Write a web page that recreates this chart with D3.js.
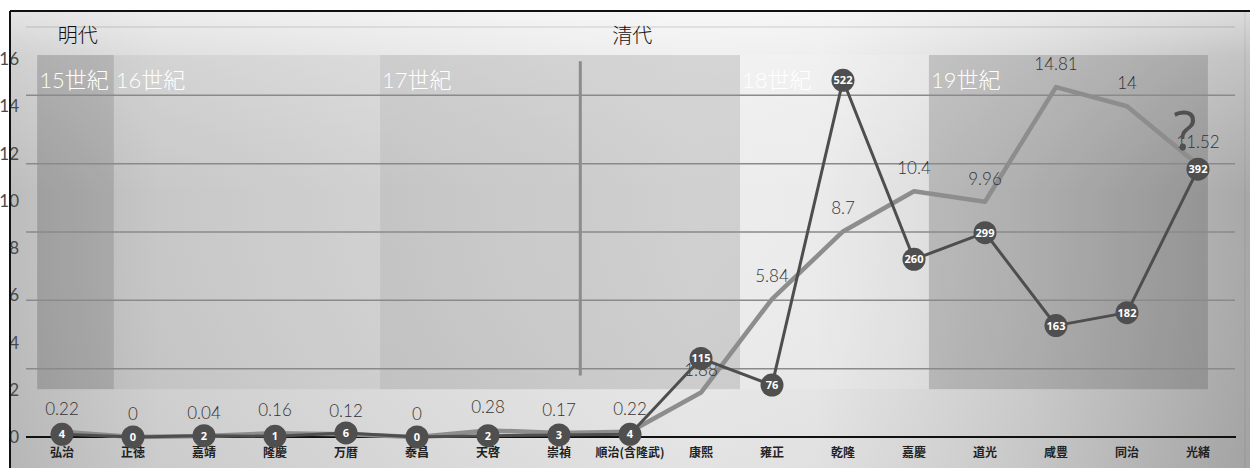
<!DOCTYPE html>
<html><head><meta charset="utf-8">
<script src="https://cdn.jsdelivr.net/npm/d3@7"></script>
<style>body{margin:0;background:#fff}svg{display:block}</style>
</head><body><svg id="c" width="1250" height="468"></svg>
<script>
const categories = ["弘治","正徳","嘉靖","隆慶","万暦","泰昌","天啓","崇禎","順治(含隆武)","康熙","雍正","乾隆","嘉慶","道光","咸豊","同治","光緒"];
const lightValues = [0.22,0,0.04,0.16,0.12,0,0.28,0.17,0.22,1.88,5.84,8.7,10.4,9.96,14.81,14,11.52];
const darkValues = [4,0,2,1,6,0,2,3,4,115,76,522,260,299,163,182,392];
const leftTicks = [0,2,4,6,8,10,12,14,16];
const darkGrid = [100,200,300,400,500,600];
const centuries = [
  {label:"15世紀", from:-0.35, to:0.73, fill:"rgba(0,0,0,0.17)"},
  {label:"16世紀", from:0.73, to:4.48, fill:"rgba(0,0,0,0.05)"},
  {label:"17世紀", from:4.48, to:9.55, fill:"rgba(0,0,0,0.11)"},
  {label:"18世紀", from:9.55, to:12.21, fill:"rgba(255,255,255,0.14)"},
  {label:"19世紀", from:12.21, to:16.14, fill:"rgba(0,0,0,0.15)"}
];
const dynasties = [{label:"明代", at:-0.06},{label:"清代", at:7.75}];
const dividerAt = 7.3;

const svg = d3.select("#c");
const W = 1250, H = 468;
const x = d3.scalePoint().domain(categories).range([26.5,1233.5]).padding(0.5);
const xi = d3.scaleLinear().domain([0,16]).range([x(categories[0]), x(categories[16])]);
const yL = d3.scaleLinear().domain([0,16]).range([437,59]);
const yD = d3.scaleLinear().domain([0,600]).range([437,27]);

const defs = svg.append("defs");
const g1 = defs.append("linearGradient").attr("id","bgH").attr("x1","0").attr("x2","1").attr("y1","0").attr("y2","0");
[["0%","#bcbcbc"],["12%","#d2d2d2"],["35%","#e0e0e0"],["55%","#eaeaea"],["65%","#e8e8e8"],["82%","#cdcdcd"],["100%","#a8a8a8"]]
 .forEach(s=>g1.append("stop").attr("offset",s[0]).attr("stop-color",s[1]));
const g2 = defs.append("linearGradient").attr("id","bgV").attr("x1","0").attr("x2","0").attr("y1","0").attr("y2","1");
[["0%","rgba(255,255,255,0.6)"],["10%","rgba(255,255,255,0.3)"],["40%","rgba(255,255,255,0)"],["100%","rgba(0,0,0,0.03)"]]
 .forEach(s=>g2.append("stop").attr("offset",s[0]).attr("stop-color",s[1]));

svg.append("rect").attr("x",10).attr("y",11).attr("width",W-10).attr("height",H-11).attr("fill","url(#bgH)");
svg.append("rect").attr("x",10).attr("y",11).attr("width",W-10).attr("height",H-11).attr("fill","url(#bgV)");
svg.append("line").attr("x1",1245).attr("x2",1245).attr("y1",11).attr("y2",H).attr("stroke","rgba(0,0,0,0.08)").attr("stroke-width",1);

// century blocks
const blockTop = yD(559), blockBot = yD(70);
svg.selectAll("rect.cent").data(centuries).join("rect").attr("class","cent")
  .attr("x",d=>xi(d.from)).attr("width",d=>xi(d.to)-xi(d.from))
  .attr("y",blockTop).attr("height",blockBot-blockTop).attr("fill",d=>d.fill);

// gridlines
svg.selectAll("line.grid").data(darkGrid).join("line").attr("class","grid")
  .attr("x1",26).attr("x2",1235).attr("y1",d=>yD(d)).attr("y2",d=>yD(d))
  .attr("stroke",d=>d===600?"rgba(0,0,0,0.08)":"#8a8a8a").attr("stroke-width",d=>d===600?2:1.5);

// divider
svg.append("line").attr("x1",xi(dividerAt)).attr("x2",xi(dividerAt)).attr("y1",yD(550)).attr("y2",yD(90))
  .attr("stroke","#8c8c8c").attr("stroke-width",3);

// century labels
svg.selectAll("text.cent").data(centuries).join("text").attr("class","cent")
  .attr("x",d=>xi(d.from)+2).attr("y",blockTop+33)
  .attr("fill","#fff").attr("font-family","Lato, 'Noto Sans CJK JP'").attr("font-weight",300)
  .attr("font-size",22).text(d=>d.label);

// dynasty labels
svg.selectAll("text.dyn").data(dynasties).join("text").attr("class","dyn")
  .attr("x",d=>xi(d.at)).attr("y",43).attr("fill","#111")
  .attr("font-family","'Noto Sans CJK JP'").attr("font-weight",300).attr("font-size",20).text(d=>d.label);

// y tick labels
svg.selectAll("text.yt").data(leftTicks).join("text").attr("class","yt")
  .attr("x",19).attr("y",d=>yL(d)).attr("dy","0.36em").attr("text-anchor","end")
  .attr("fill","#4a4a4a").attr("font-family","Lato").attr("font-weight",400).attr("font-size",17).text(d=>d);

// x axis
svg.append("line").attr("x1",26).attr("x2",1236).attr("y1",yL(0)).attr("y2",yL(0)).attr("stroke","#111").attr("stroke-width",2);
svg.selectAll("text.xt").data(categories).join("text").attr("class","xt")
  .attr("x",d=>x(d)).attr("y",457).attr("text-anchor","middle")
  .attr("fill","#222").attr("font-family","'Noto Sans CJK JP'").attr("font-weight",700).attr("font-size",12).text(d=>d);

// light line
svg.append("path").datum(lightValues)
  .attr("d",d3.line().x((d,i)=>x(categories[i])).y(d=>yL(d)))
  .attr("fill","none").attr("stroke","#8d8d8d").attr("stroke-width",4.5).attr("stroke-linejoin","round");
// light labels
svg.selectAll("text.ll").data(lightValues).join("text").attr("class","ll")
  .attr("x",(d,i)=>x(categories[i])).attr("y",d=>yL(d)-17).attr("text-anchor","middle")
  .attr("fill","#333").attr("font-family","Lato").attr("font-weight",300).attr("font-size",17).text(d=>d);

// dark line
svg.append("path").datum(darkValues)
  .attr("d",d3.line().x((d,i)=>x(categories[i])).y(d=>yD(d)))
  .attr("fill","none").attr("stroke","#4e4e4e").attr("stroke-width",3).attr("stroke-linejoin","round");
svg.selectAll("circle.dm").data(darkValues).join("circle").attr("class","dm")
  .attr("cx",(d,i)=>x(categories[i])).attr("cy",d=>yD(d)).attr("r",11.5).attr("fill","#4f4f4f");
svg.selectAll("text.dl").data(darkValues).join("text").attr("class","dl")
  .attr("x",(d,i)=>x(categories[i])).attr("y",d=>yD(d)).attr("dy","0.36em").attr("text-anchor","middle")
  .attr("fill","#fff").attr("font-family","'Open Sans'").attr("font-weight",700).attr("font-size",11).text(d=>d);

// question mark
svg.append("text").attr("x",x(categories[16])-13).attr("y",yL(11.52)-15).attr("text-anchor","middle")
  .attr("fill","#505050").attr("font-family","'Open Sans'").attr("font-weight",400).attr("font-size",54).text("?");

// border
svg.append("line").attr("x1",10).attr("x2",W).attr("y1",11).attr("y2",11).attr("stroke","#111").attr("stroke-width",2);
svg.append("line").attr("x1",10).attr("x2",10).attr("y1",11).attr("y2",H).attr("stroke","#111").attr("stroke-width",2);
</script></body></html>
